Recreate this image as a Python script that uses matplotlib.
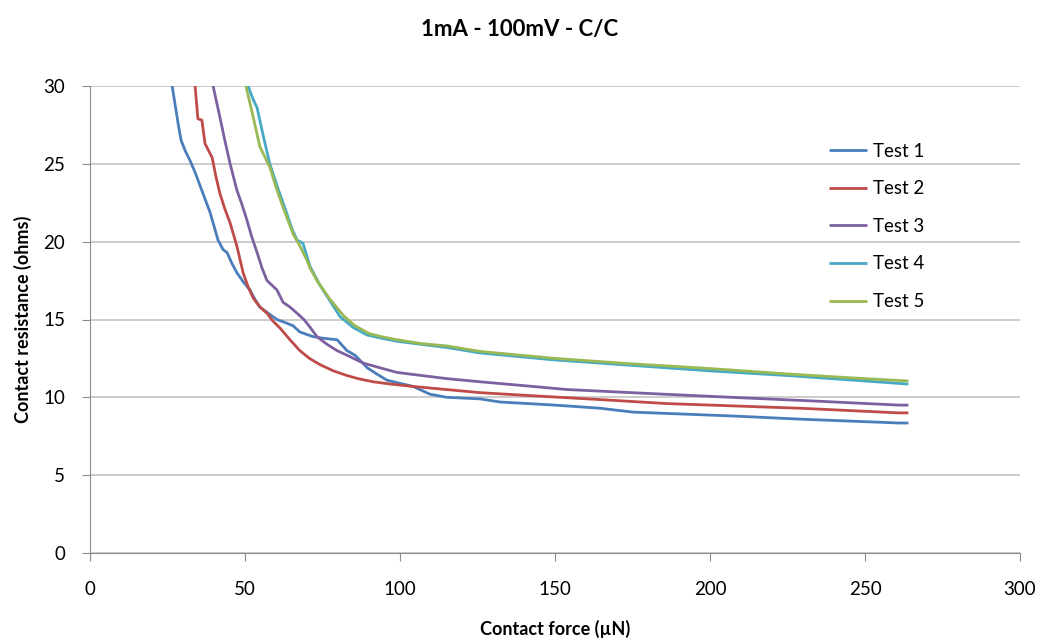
import matplotlib
matplotlib.use('Agg')
import matplotlib.pyplot as plt

# Test data (force in uN, resistance in ohms)
t1_x = [26.5, 27.7, 28.5, 29.4, 30.8, 32.3, 34.0, 35.5, 37.0, 38.7, 40.0, 41.3, 42.9, 44.2,
        45.8, 47.4, 49.5, 51.6, 53.2, 54.8, 57.5, 60.3, 63.0, 65.5, 67.7, 71.9, 75.0, 79.7,
        82.9, 85.5, 87.5, 89.4, 92.5, 95.8, 100.0, 104.2, 109.7, 115.2, 125.8, 132.3, 150.0,
        164.5, 175.2, 207.4, 229.0, 261.0, 264.0]
t1_y = [30.0, 28.5, 27.5, 26.5, 25.8, 25.2, 24.4, 23.6, 22.8, 21.9, 21.0, 20.1, 19.5, 19.3,
        18.6, 18.0, 17.4, 16.9, 16.3, 15.8, 15.4, 15.0, 14.8, 14.6, 14.2, 13.9, 13.8, 13.7,
        13.0, 12.7, 12.3, 11.9, 11.5, 11.1, 10.9, 10.7, 10.2, 10.0, 9.9, 9.7, 9.5,
        9.3, 9.05, 8.8, 8.6, 8.35, 8.35]

t2_x = [33.9, 34.8, 36.1, 37.1, 39.4, 40.6, 41.9, 43.5, 45.2, 47.4, 49.4, 51.0, 52.6, 54.8,
        57.1, 59.0, 61.3, 64.5, 67.7, 70.8, 74.2, 78.5, 82.9, 86.5, 91.3, 97.0, 104.2, 115.0,
        125.8, 143.0, 165.0, 186.0, 229.0, 261.0, 264.0]
t2_y = [30.0, 27.9, 27.8, 26.3, 25.4, 24.2, 23.1, 22.1, 21.2, 19.7, 18.0, 17.1, 16.4, 15.8,
        15.4, 14.9, 14.45, 13.7, 13.0, 12.5, 12.1, 11.7, 11.4, 11.2, 11.0, 10.85, 10.7, 10.5,
        10.3, 10.1, 9.85, 9.6, 9.3, 9.0, 9.0]

t3_x = [39.7, 41.9, 43.5, 45.2, 47.4, 49.0, 50.6, 52.2, 53.9, 55.5, 57.1, 60.3, 62.3, 64.5,
        66.8, 69.0, 71.0, 73.2, 76.5, 79.7, 84.0, 88.1, 93.5, 99.0, 107.0, 115.2, 125.8, 140.0,
        153.9, 180.0, 207.0, 235.0, 261.0, 264.0]
t3_y = [30.0, 28.0, 26.5, 25.0, 23.3, 22.4, 21.4, 20.3, 19.3, 18.3, 17.5, 16.9, 16.1, 15.8,
        15.4, 15.0, 14.5, 13.9, 13.4, 13.0, 12.6, 12.2, 11.9, 11.6, 11.4, 11.2, 11.0, 10.75,
        10.5, 10.25, 10.0, 9.75, 9.5, 9.5]

t4_x = [51.0, 52.5, 53.9, 56.0, 58.0, 60.5, 63.5, 65.2, 66.8, 68.7, 71.0, 74.2, 77.4, 80.6,
        84.8, 89.4, 94.0, 99.0, 107.0, 115.2, 125.8, 150.0, 175.0, 200.0, 225.0, 250.0, 264.0]
t4_y = [30.0, 29.2, 28.6, 26.7, 25.0, 23.5, 21.8, 20.8, 20.1, 19.9, 18.4, 17.2, 16.2, 15.2,
        14.5, 14.0, 13.8, 13.6, 13.4, 13.2, 12.85, 12.4, 12.05, 11.7, 11.4, 11.05, 10.85]

t5_x = [50.3, 52.3, 54.8, 58.0, 60.0, 62.3, 65.5, 67.5, 70.0, 71.0, 73.2, 77.4, 82.0, 85.5,
        90.0, 94.0, 99.0, 107.0, 115.2, 125.8, 150.0, 175.0, 200.0, 225.0, 250.0, 264.0]
t5_y = [30.0, 28.3, 26.1, 24.8, 23.5, 22.2, 20.5, 19.8, 18.8, 18.3, 17.5, 16.3, 15.2, 14.6,
        14.1, 13.9, 13.7, 13.45, 13.3, 12.95, 12.5, 12.15, 11.85, 11.5, 11.2, 11.05]

series = [('Test 1', t1_x, t1_y, '#4A7EBB'),
          ('Test 2', t2_x, t2_y, '#BE4B48'),
          ('Test 3', t3_x, t3_y, '#7D60A0'),
          ('Test 4', t4_x, t4_y, '#46AAC5'),
          ('Test 5', t5_x, t5_y, '#98B954')]

plt.rcParams['font.family'] = ['Lato', 'DejaVu Sans']

fig = plt.figure(figsize=(10.4, 6.4), dpi=100)
ax = fig.add_axes([90 / 1040, 1 - 553 / 640, 930 / 1040, 467 / 640])

for name, xs, ys, col in series:
    ax.plot(xs, ys, color=col, lw=2.0, label=name, solid_joinstyle='round', solid_capstyle='butt')

ax.set_xlim(0, 300)
ax.set_ylim(0, 30)
ax.set_xticks(range(0, 301, 50))
ax.set_yticks(range(0, 31, 5))
ax.yaxis.grid(True, color='#c4c4c4', lw=1.2)
ax.set_axisbelow(True)
for s in ['top', 'right']:
    ax.spines[s].set_visible(False)
for s in ['left', 'bottom']:
    ax.spines[s].set_color('#8c8c8c')
ax.tick_params(axis='both', labelsize=13.5, color='#8c8c8c', length=6)
ax.tick_params(axis='y', pad=12)
ax.tick_params(axis='x', pad=14)

ax.set_xlabel('Contact force (µN)', fontsize=13, fontweight='bold', labelpad=16)
ax.set_ylabel('Contact resistance (ohms)', fontsize=13, fontweight='bold', labelpad=8)
fig.suptitle('1mA - 100mV - C/C', fontsize=16, fontweight='bold', y=0.97)

ax.legend(loc='upper left', bbox_to_anchor=(0.777, 0.915), frameon=False, fontsize=13.5,
          handlelength=2.0, handletextpad=0.3, labelspacing=1.1)

fig.savefig('out.png', dpi=100)
